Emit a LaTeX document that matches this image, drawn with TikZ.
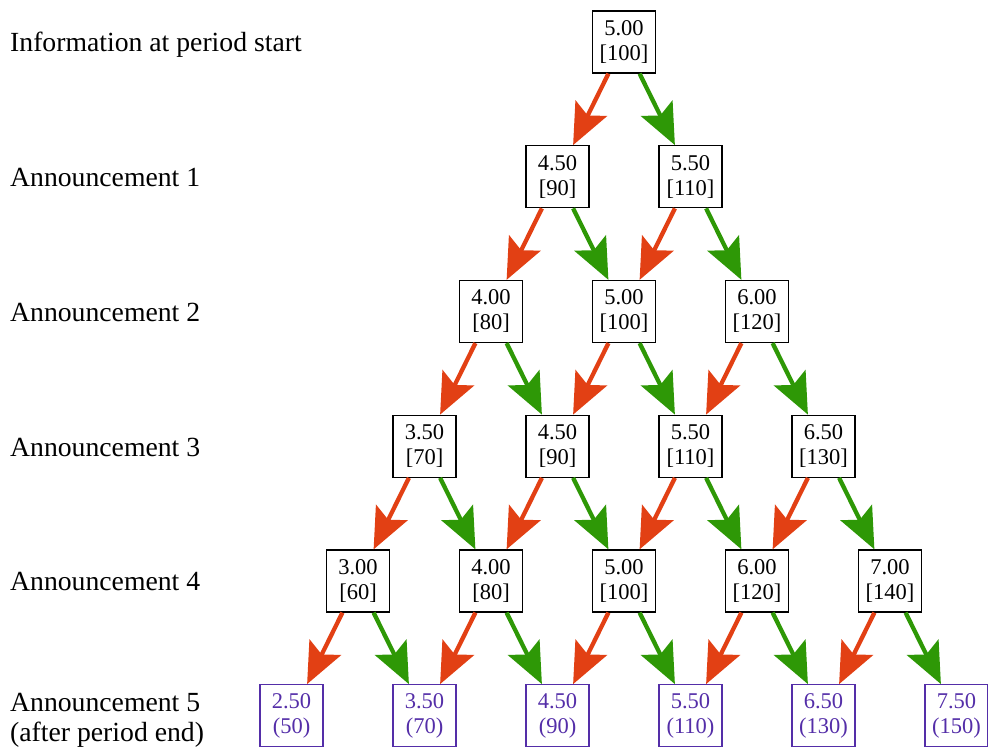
\documentclass[tikz,border=0pt]{standalone}
\usepackage{fontspec}
\setmainfont{Liberation Serif}
\usetikzlibrary{arrows.meta}

\definecolor{downred}{RGB}{226,64,20}
\definecolor{upgreen}{RGB}{46,152,6}
\definecolor{endpurple}{RGB}{84,46,168}

\tikzset{
  price/.style={draw,line width=1.3pt,minimum width=63pt,minimum height=62pt,inner sep=0pt,align=center,font=\fontsize{22.5}{25}\selectfont},
  final/.style={price,draw=endpurple,text=endpurple},
  stage/.style={anchor=base west,inner sep=0pt,align=left,font=\fontsize{27.7}{30}\selectfont},
  down/.style={draw=downred,line width=4.3pt,-{Stealth[length=41pt,width=35pt,inset=8pt]}},
  up/.style={draw=upgreen,line width=4.3pt,-{Stealth[length=41pt,width=35pt,inset=8pt]}}
}

\begin{document}
\begin{tikzpicture}[x=1pt,y=-1pt]
	\useasboundingbox (0,0) rectangle (988,749);
	% stage labels
	\node[stage] (I) at (10,51.7) {Information at period start};
	\node[stage] (N1) at (10,186.5) {Announcement 1};
	\node[stage] (N2) at (10,321.2) {Announcement 2};
	\node[stage] (N3) at (10,456) {Announcement 3};
	\node[stage] (N4) at (10,590.7) {Announcement 4};
	\node[stage] (N5) at (10,741.7) {Announcement 5\\(after period end)};
	% price tree
	\node[price] (A) at (624,42) {5.00\\{[100]}};
	\node[price] (B1) at (557.5,176.75) {4.50\\{[90]}};
	\node[price] (B2) at (690.5,176.75) {5.50\\{[110]}};
	\node[price] (C1) at (491,311.5) {4.00\\{[80]}};
	\node[price] (C2) at (624,311.5) {5.00\\{[100]}};
	\node[price] (C3) at (757,311.5) {6.00\\{[120]}};
	\node[price] (D1) at (424.5,446.25) {3.50\\{[70]}};
	\node[price] (D2) at (557.5,446.25) {4.50\\{[90]}};
	\node[price] (D3) at (690.5,446.25) {5.50\\{[110]}};
	\node[price] (D4) at (823.5,446.25) {6.50\\{[130]}};
	\node[price] (E1) at (358,581) {3.00\\{[60]}};
	\node[price] (E2) at (491,581) {4.00\\{[80]}};
	\node[price] (E3) at (624,581) {5.00\\{[100]}};
	\node[price] (E4) at (757,581) {6.00\\{[120]}};
	\node[price] (E5) at (890,581) {7.00\\{[140]}};
	\node[final] (F1) at (291.5,715.75) {2.50\\(50)};
	\node[final] (F2) at (424.5,715.75) {3.50\\(70)};
	\node[final] (F3) at (557.5,715.75) {4.50\\(90)};
	\node[final] (F4) at (690.5,715.75) {5.50\\(110)};
	\node[final] (F5) at (823.5,715.75) {6.50\\(130)};
	\node[final] (F6) at (956.5,715.75) {7.50\\(150)};
	% moves
	\draw[down] (A) -- (B1);
	\draw[up] (A) -- (B2);
	\draw[down] (B1) -- (C1);
	\draw[up] (B1) -- (C2);
	\draw[down] (B2) -- (C2);
	\draw[up] (B2) -- (C3);
	\draw[down] (C1) -- (D1);
	\draw[up] (C1) -- (D2);
	\draw[down] (C2) -- (D2);
	\draw[up] (C2) -- (D3);
	\draw[down] (C3) -- (D3);
	\draw[up] (C3) -- (D4);
	\draw[down] (D1) -- (E1);
	\draw[up] (D1) -- (E2);
	\draw[down] (D2) -- (E2);
	\draw[up] (D2) -- (E3);
	\draw[down] (D3) -- (E3);
	\draw[up] (D3) -- (E4);
	\draw[down] (D4) -- (E4);
	\draw[up] (D4) -- (E5);
	\draw[down] (E1) -- (F1);
	\draw[up] (E1) -- (F2);
	\draw[down] (E2) -- (F2);
	\draw[up] (E2) -- (F3);
	\draw[down] (E3) -- (F3);
	\draw[up] (E3) -- (F4);
	\draw[down] (E4) -- (F4);
	\draw[up] (E4) -- (F5);
	\draw[down] (E5) -- (F5);
	\draw[up] (E5) -- (F6);
\end{tikzpicture}
\end{document}
